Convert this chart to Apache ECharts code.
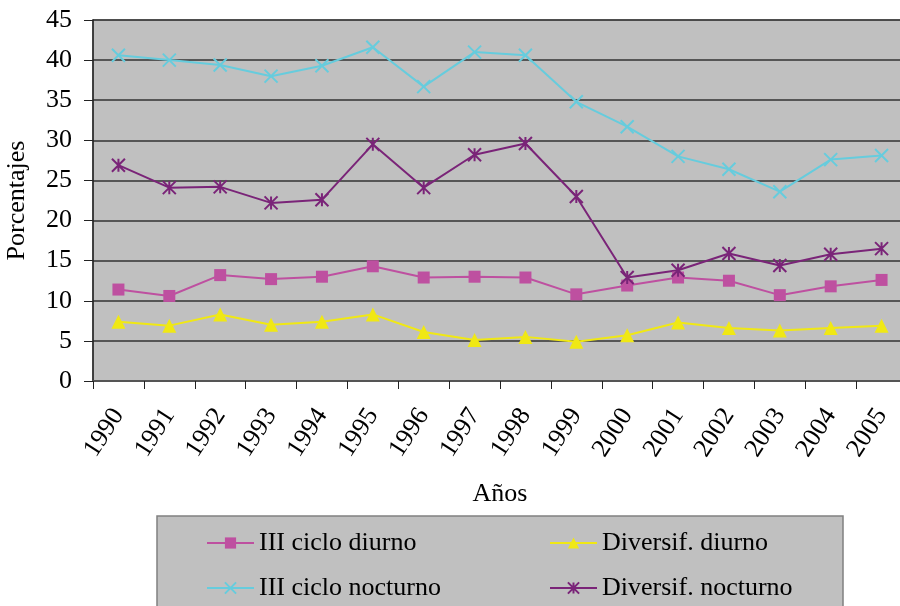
<!DOCTYPE html>
<html>
<head>
<meta charset="utf-8">
<script src="https://cdn.jsdelivr.net/npm/echarts@6/dist/echarts.min.js"></script>
<style>html,body{margin:0;padding:0;background:#fff}#c{width:900px;height:606px}</style>
</head>
<body>
<div id="c"></div>
<script>
var years = ['1990','1991','1992','1993','1994','1995','1996','1997','1998','1999','2000','2001','2002','2003','2004','2005'];
var yTicks = [0, 5, 10, 15, 20, 25, 30, 35, 40, 45];
var cicloDiurno = [11.4, 10.6, 13.2, 12.7, 13.0, 14.3, 12.9, 13.0, 12.9, 10.8, 11.9, 12.9, 12.5, 10.7, 11.8, 12.6];
var diversifDiurno = [7.4, 6.9, 8.3, 7.0, 7.4, 8.3, 6.1, 5.1, 5.5, 4.9, 5.7, 7.3, 6.6, 6.3, 6.6, 6.9];
var cicloNocturno = [40.6, 40.0, 39.4, 38.0, 39.3, 41.6, 36.7, 41.0, 40.6, 34.8, 31.7, 28.0, 26.4, 23.6, 27.6, 28.1];
var diversifNocturno = [26.9, 24.1, 24.2, 22.2, 22.6, 29.5, 24.1, 28.2, 29.6, 23.0, 12.9, 13.8, 15.9, 14.4, 15.8, 16.5];

var FONT = '"Liberation Serif", "Times New Roman", serif';
var C_PINK = '#BE50A0', C_YEL = '#F0E814', C_CYAN = '#66CCDD', C_PURP = '#7A2478';
var X_PATH = 'path://M0,0L12,12M12,0L0,12';
var AST_PATH = 'path://M0,0L12,12M12,0L0,12M6,0L6,12';

var chart = echarts.init(document.getElementById('c'));
function mkSeries(name, data, color, symbol, size, stroke) {
  return {
    name: name, type: 'line', data: data,
    symbol: symbol, symbolSize: size,
    lineStyle: { color: color, width: 2 },
    itemStyle: stroke ? { color: color, borderColor: color, borderWidth: 2 } : { color: color, borderWidth: 0 },
    emphasis: { disabled: true },
    animation: false
  };
}
chart.setOption({
  animation: false,
  textStyle: { fontFamily: FONT },
  graphic: [{
    type: 'rect', z: 0,
    shape: { x: 157, y: 516, width: 686, height: 120 },
    style: { fill: '#C0C0C0', stroke: '#808080', lineWidth: 1.5 }
  }],
  grid: {
    left: 93, top: 20, width: 814, height: 361,
    outerBoundsMode: 'none', containLabel: false,
    show: true, backgroundColor: '#C0C0C0', borderColor: '#808080', borderWidth: 1.5
  },
  legend: [{
    orient: 'vertical', left: 206, top: 528, padding: 0,
    itemWidth: 47, itemHeight: 14, itemGap: 15,
    data: ['III ciclo diurno', 'III ciclo nocturno'],
    textStyle: { fontFamily: FONT, fontSize: 26, color: '#000', lineHeight: 30 },
    z: 5
  }, {
    orient: 'vertical', left: 549, top: 528, padding: 0,
    itemWidth: 47, itemHeight: 14, itemGap: 15,
    data: ['Diversif. diurno', 'Diversif. nocturno'],
    textStyle: { fontFamily: FONT, fontSize: 26, color: '#000', lineHeight: 30 },
    z: 5
  }],
  xAxis: {
    type: 'category', data: years, boundaryGap: true,
    name: 'Años', nameLocation: 'middle', nameGap: 100,
    nameTextStyle: { fontFamily: FONT, fontSize: 26, color: '#000' },
    axisLine: { lineStyle: { color: '#555', width: 2 } },
    axisTick: { show: true, length: 8, lineStyle: { color: '#222', width: 1 } },
    axisLabel: { rotate: 57, margin: 30, fontFamily: FONT, fontSize: 26, color: '#000', interval: 0 },
    splitLine: { show: false }
  },
  yAxis: {
    type: 'value', min: yTicks[0], max: yTicks[yTicks.length - 1], interval: 5,
    name: 'Porcentajes', nameLocation: 'middle', nameGap: 63,
    nameTextStyle: { fontFamily: FONT, fontSize: 26, color: '#000' },
    axisLine: { show: true, lineStyle: { color: '#222', width: 1.5 } },
    axisTick: { show: true, length: 9, lineStyle: { color: '#222', width: 1 } },
    axisLabel: { margin: 21, fontFamily: FONT, fontSize: 26, color: '#000' },
    splitLine: { show: true, lineStyle: { color: '#333', width: 1.5 } }
  },
  series: [
    mkSeries('III ciclo diurno', cicloDiurno, C_PINK, 'rect', 12, false),
    mkSeries('Diversif. diurno', diversifDiurno, C_YEL, 'triangle', 14, false),
    mkSeries('III ciclo nocturno', cicloNocturno, C_CYAN, X_PATH, 13, true),
    mkSeries('Diversif. nocturno', diversifNocturno, C_PURP, AST_PATH, 13, true)
  ]
});
</script>
</body>
</html>
